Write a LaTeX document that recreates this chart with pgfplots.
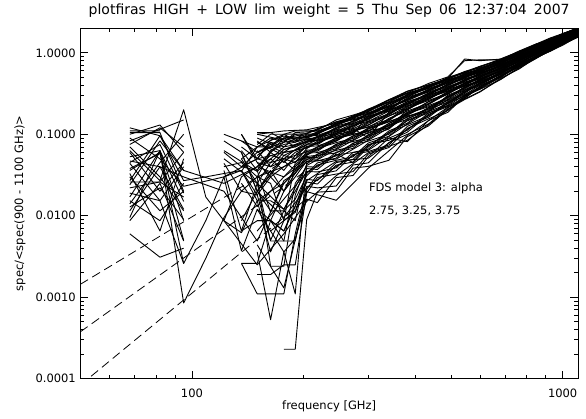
\documentclass[border=0pt]{standalone}
\usepackage{fontspec}
\setmainfont{DejaVu Sans}
\newfontfamily\titlefont[WordSpace=1.6]{DejaVu Sans}
\usepackage{pgfplots}
\usepackage{pgfplotstable}
\pgfplotsset{compat=1.18}

% spectra, one column per sky region
\pgfplotstableread{
f s1 s2 s3 s4 s5 s6 s7 s8 s9 s10 s11 s12 s13 s14 s15 s16 s17 s18 s19 s20 s21 s22 s23 s24 s25 s26 s27 s28 s29 s30 s31 s32 s33 s34 s35 s36 s37 s38 s39 s40
68 nan nan nan nan nan nan 0.006 nan 0.0095 nan 0.0128 nan nan 0.0153 0.017 nan 0.019 nan 0.022 0.026 nan 0.027 nan 0.038 0.044 nan 0.053 nan 0.063 0.083 nan 0.105 nan 0.12 nan 0.11 0.036 nan 0.047 nan
82 nan nan nan nan nan nan 0.0031 nan 0.063 nan 0.022 nan nan 0.0087 0.063 nan 0.0153 nan 0.026 0.026 nan 0.096 nan 0.058 0.0153 nan 0.063 nan 0.027 0.115 nan 0.105 nan 0.096 nan 0.11 0.06 nan 0.04 nan
95 nan nan nan nan nan nan 0.004 nan 0.00085 nan 0.009 nan nan 0.025 0.015 nan 0.0026 nan 0.017 0.06 nan 0.027 nan 0.005 0.04 nan 0.0087 nan 0.2 0.15 nan 0.02 nan 0.036 nan nan 0.0026 nan 0.012 nan
109 nan nan nan nan nan nan nan nan 0.003 nan nan nan nan nan nan nan 0.0087 nan nan nan nan 0.03 nan nan nan nan nan nan 0.017 nan nan nan nan nan nan nan nan nan nan nan
122 nan nan nan nan 0.03 nan 0.0087 nan 0.0095 nan nan 0.036 nan 0.044 nan nan 0.03 nan 0.083 nan nan 0.033 nan nan nan 0.04 nan nan 0.0087 nan nan nan nan 0.06 nan nan nan nan nan nan
136 nan nan 0.0026 nan 0.0037 0.0065 0.0062 nan 0.02 0.06 0.0026 0.0065 nan 0.02 0.04 nan 0.036 nan 0.06 0.1 0.025 0.036 nan 0.05 nan 0.045 0.0087 0.07 0.03 0.04 nan 0.063 nan 0.04 0.083 nan 0.1 0.05 nan 0.035
150 nan 0.0036 0.0011 0.0019 0.012 0.0087 0.0153 0.0153 0.018 0.02 0.0026 0.025 0.0087 0.03 0.036 nan 0.0153 0.03 0.02 0.045 0.013 0.018 0.04 0.025 0.063 0.03 0.02 0.05 0.04 0.06 0.105 0.036 0.075 0.05 0.06 0.083 0.05 0.07 0.04 0.07
163 nan 0.00053 0.0011 0.0019 0.0065 0.0087 0.0036 0.0153 0.005 0.0115 0.0087 0.0049 0.0087 0.0024 0.011 0.0065 0.02 0.025 0.036 0.04 0.02 0.03 0.05 0.045 0.04 0.06 0.033 0.045 0.055 0.07 0.105 0.063 0.1 0.08 0.075 0.06 0.085 0.09 0.06 0.07
177 0.00023 0.0036 0.0011 0.0025 0.0087 0.0049 0.0087 0.012 0.0115 0.0115 0.0065 0.0049 0.02 0.0024 0.027 0.0036 0.025 0.0087 0.02 0.047 0.03 0.04 0.036 0.05 0.06 0.045 0.055 0.065 0.05 0.06 0.085 0.075 0.1 0.07 0.09 0.08 0.095 0.08 0.09 0.1
190 0.00023 0.0052 0.006 0.0025 0.011 0.0049 0.0115 0.02 0.016 0.0087 0.013 0.025 0.03 0.018 0.033 0.0011 0.036 0.045 0.04 0.036 0.042 0.05 0.055 0.045 0.063 0.06 0.05 0.07 0.065 0.075 0.07 0.08 0.085 0.09 0.08 0.1 0.09 0.105 0.095 0.11
204 0.009 0.016 0.023 0.019 0.026 0.021 0.028 0.035 0.031 0.038 0.033 0.040 0.047 0.043 0.050 0.045 0.052 0.059 0.055 0.062 0.057 0.064 0.071 0.067 0.074 0.069 0.076 0.083 0.079 0.086 0.081 0.088 0.095 0.091 0.098 0.093 0.100 0.107 0.103 0.110
218 0.0195 0.0145 0.022 0.0295 0.0245 0.032 0.027 0.0345 0.042 0.037 0.0445 0.0395 0.047 0.0545 0.0495 0.057 0.052 0.0595 0.067 0.062 0.0695 0.0645 0.072 0.0795 0.0745 0.082 0.077 0.0845 0.092 0.087 0.0945 0.0895 0.097 0.1045 0.0995 0.107 0.102 0.1095 0.117 0.112
245 0.0201 0.0294 0.0232 0.0325 0.0418 0.0356 0.0449 0.0387 0.048 0.0573 0.0511 0.0604 0.0542 0.0635 0.0728 0.0666 0.0759 0.0697 0.079 0.0883 0.0821 0.0914 0.0852 0.0945 0.104 0.0976 0.107 0.101 0.11 0.119 0.113 0.122 0.116 0.126 0.135 0.129 0.138 0.132 0.141 0.150
272 0.0384 0.0312 0.042 0.0348 0.0456 0.0564 0.0492 0.06 0.0528 0.045 0.0744 0.0672 0.078 0.0708 0.0816 0.0924 0.0852 0.096 0.0888 0.0996 0.110 0.103 0.114 0.107 0.118 0.128 0.121 0.132 0.125 0.136 0.146 0.139 0.10 0.143 0.154 0.164 0.157 0.168 0.161 0.172
299 0.0404 0.053 0.0446 0.0572 0.075 0.0614 0.074 0.0656 0.0782 0.0698 0.0824 0.095 0.0866 0.0992 0.0908 0.103 0.116 0.108 0.12 0.112 0.124 0.137 0.129 0.141 0.09 0.145 0.158 0.15 0.162 0.154 0.166 0.179 0.171 0.183 0.175 0.187 0.2 0.192 0.204 0.196
340 0.048 0.09 0.0792 0.0688 0.0844 0.074 0.0896 0.105 0.0948 0.11 0.1 0.116 0.131 0.121 0.136 0.126 0.142 0.157 0.147 0.12 0.152 0.168 0.183 0.173 0.188 0.178 0.194 0.209 0.199 0.214 0.204 0.22 0.235 0.225 0.24 0.19 0.246 0.261 0.251 0.266
381 0.0936 0.0812 0.0998 0.118 0.106 0.125 0.112 0.131 0.149 0.137 0.156 0.18 0.162 0.18 0.168 0.187 0.174 0.193 0.211 0.199 0.218 0.205 0.224 0.242 0.23 0.249 0.236 0.2 0.273 0.261 0.28 0.267 0.286 0.304 0.292 0.311 0.298 0.317 0.335 0.323
435 0.127 0.148 0.134 0.155 0.176 0.162 0.183 0.169 0.19 0.211 0.197 0.218 0.204 0.225 0.19 0.232 0.253 0.239 0.26 0.281 0.267 0.288 0.274 0.295 0.316 0.302 0.323 0.309 0.33 0.351 0.337 0.358 0.344 0.365 0.386 0.372 0.393 0.379 0.4 0.421
490 0.203 0.186 0.211 0.195 0.219 0.244 0.227 0.252 0.236 0.26 0.285 0.268 0.293 0.277 0.301 0.326 0.309 0.334 0.318 0.342 0.367 0.35 0.375 0.359 0.383 0.408 0.391 0.416 0.4 0.424 0.449 0.432 0.457 0.441 0.465 0.49 0.473 0.498 0.482 0.506
544 0.267 0.293 0.276 0.301 0.284 0.31 0.335 0.318 0.344 0.327 0.352 0.378 0.361 0.386 0.369 0.395 0.42 0.403 0.429 0.412 0.437 0.463 0.446 0.471 0.454 0.48 0.505 0.488 0.514 0.497 0.522 0.548 0.531 0.556 0.539 0.565 0.59 0.573 0.84 0.80
598 0.33 0.356 0.381 0.364 0.39 0.373 0.398 0.424 0.407 0.432 0.415 0.441 0.466 0.449 0.475 0.458 0.483 0.509 0.492 0.517 0.5 0.526 0.551 0.534 0.56 0.543 0.568 0.594 0.577 0.602 0.585 0.611 0.636 0.619 0.645 0.628 0.653 0.679 0.80 0.82
680 0.487 0.469 0.496 0.523 0.505 0.532 0.514 0.541 0.568 0.55 0.577 0.559 0.586 0.613 0.595 0.622 0.604 0.631 0.658 0.64 0.667 0.649 0.676 0.703 0.685 0.712 0.694 0.721 0.748 0.73 0.757 0.739 0.766 0.793 0.775 0.802 0.784 0.811 0.838 0.82
762 0.63 0.66 0.72 0.67 0.70 0.68 0.71 0.69 0.72 0.75 0.73 0.76 0.74 0.77 0.80 0.78 0.81 0.79 0.82 0.85 0.83 0.86 0.84 0.87 0.90 0.88 0.91 0.89 0.92 0.95 0.93 0.96 0.94 0.97 1.00 0.98 1.01 0.99 1.02 1.05
843 0.864 0.842 0.875 0.853 0.886 0.919 0.897 1.05 0.908 0.941 0.974 0.952 0.985 0.963 0.996 1.029 1.007 1.04 1.018 1.051 1.084 1.062 1.095 1.073 1.106 1.139 1.117 1.15 1.128 1.0 1.194 1.172 1.205 1.183 1.216 1.249 1.227 1.26 1.238 1.271
925 1.043 1.078 1.055 1.089 1.066 1.101 1.135 1.112 1.147 1.124 1.158 1.193 1.17 1.204 1.181 1.216 1.25 1.227 1.262 1.239 1.273 1.2 1.285 1.319 1.296 1.331 1.365 1.342 1.377 1.354 1.388 1.423 1.4 1.434 1.411 1.446 1.48 1.457 1.492 1.469
1007 1.26 1.295 1.329 1.306 1.341 1.318 1.352 1.387 1.364 1.398 1.375 1.41 1.444 1.5 1.456 1.433 1.467 1.502 1.479 1.513 1.49 1.525 1.559 1.536 1.571 1.548 1.582 1.617 1.594 1.628 1.605 1.64 1.674 1.651 1.686 1.663 1.697 1.732 1.709 1.743
1100 1.595 1.572 1.606 1.641 1.618 1.652 1.629 1.664 1.698 1.675 1.71 1.687 1.721 1.756 1.733 1.767 1.744 1.779 1.813 1.79 1.825 1.802 1.836 1.871 1.848 1.882 1.859 1.894 1.928 1.905 1.94 1.917 1.951 1.986 1.963 1.997 1.974 2.009 2.043 2.02
}\spec

% more regions, sampled on a coarser grid
\pgfplotstableread{
f b1 b2 b3 b4 b5 b6 b7 b8 b9 b10 b11 b12 b13 b14 b15 b16 b17 b18 b19 b20
68 nan nan 0.0087 nan 0.03 0.0115 nan 0.07 0.024 nan 0.033 0.09 nan 0.014 0.1 nan 0.06 0.045 nan 0.075
82 nan nan 0.025 nan 0.0115 0.04 nan 0.03 0.083 nan 0.0065 0.05 nan 0.045 0.13 nan 0.02 0.075 nan 0.12
95 nan nan 0.0049 nan 0.02 0.03 nan 0.0115 0.036 nan 0.05 0.023 nan 0.1 0.06 nan 0.045 0.019 nan 0.07
122 nan 0.0087 nan nan nan 0.02 0.05 nan 0.025 nan nan 0.03 0.063 nan nan nan nan nan 0.1 nan
150 0.0044 0.0025 0.012 0.02 0.0065 0.0049 0.025 0.03 0.04 0.02 0.045 0.05 0.035 0.08 0.06 0.09 0.1 0.055 0.07 0.1
177 0.0013 0.006 0.0065 0.0095 0.016 0.025 0.012 0.04 0.03 0.05 0.02 0.06 0.07 0.055 0.08 0.065 0.085 0.09 0.1 0.11
204 0.0198 0.015 0.027 0.0222 0.0342 0.0462 0.0414 0.0534 0.0486 0.0606 0.0558 0.0678 0.0798 0.075 0.087 0.0822 0.0942 0.0894 0.1014 0.1134
245 0.0155 0.031 0.0465 0.0403 0.0558 0.0496 0.0651 0.0589 0.0744 0.0899 0.0837 0.0992 0.093 0.1085 0.1023 0.1178 0.1333 0.1271 0.1426 0.1364
299 0.0383 0.0593 0.0509 0.0719 0.0635 0.0845 0.1055 0.0971 0.1181 0.1097 0.1307 0.1223 0.1433 0.1643 0.1559 0.1769 0.1685 0.1895 0.1811 0.2021
381 0.0967 0.0843 0.1153 0.1463 0.1339 0.1649 0.1525 0.1835 0.1711 0.2021 0.2331 0.2207 0.2517 0.2393 0.2703 0.2579 0.2889 0.3199 0.3075 0.3385
490 0.2151 0.1987 0.2397 0.2233 0.2643 0.2479 0.2889 0.3299 0.3135 0.3545 0.3381 0.3791 0.3627 0.4037 0.4447 0.4283 0.4693 0.4529 0.4939 0.4775
598 0.3343 0.3768 0.3598 0.4023 0.4448 0.4278 0.4703 0.4533 0.4958 0.4788 0.5213 0.5638 0.5468 0.5893 0.5723 0.6148 0.5978 0.6403 0.6828 0.6658
762 0.645 0.695 0.675 0.725 0.705 0.755 0.735 0.785 0.835 0.815 0.865 0.845 0.895 0.875 0.925 0.975 0.955 1.005 0.985 1.035
925 1.072 1.049 1.106 1.083 1.141 1.198 1.175 1.233 1.21 1.267 1.244 1.302 1.359 1.336 1.394 1.371 1.428 1.405 1.463 1.52
1100 1.554 1.612 1.669 1.646 1.704 1.681 1.738 1.715 1.773 1.83 1.807 1.865 1.842 1.899 1.876 1.934 1.991 1.968 2.026 2.003
}\specb

\begin{document}
\begin{tikzpicture}
\begin{axis}[
    name=ax,
    xmode=log, ymode=log,
    scale only axis, width=497.7pt, height=350.4pt,
    xmin=50, xmax=1100, ymin=1e-4, ymax=2,
    xtick={100,1000}, xticklabels={100,1000},
    minor xtick={60,70,80,90,200,300,400,500,600,700,800,900},
    ytick={1e-4,1e-3,1e-2,1e-1,1},
    yticklabels={0.0001,0.0010,0.0100,0.1000,1.0000},
    minor ytick={0.0002,0.0003,0.0004,0.0005,0.0006,0.0007,0.0008,0.0009,
        0.002,0.003,0.004,0.005,0.006,0.007,0.008,0.009,
        0.02,0.03,0.04,0.05,0.06,0.07,0.08,0.09,
        0.2,0.3,0.4,0.5,0.6,0.7,0.8,0.9},
    major tick length=8pt, minor tick length=4pt,
    tick style={black, line width=0.8pt},
    axis line style={line width=0.9pt},
    every tick label/.append style={font=\fontsize{11.5}{13}\selectfont},
    yticklabel style={inner sep=0pt, xshift=-4.3pt},
    xticklabel style={inner sep=0pt, yshift=-9.6pt},
    title={\titlefont\fontsize{14}{16}\selectfont plotfiras HIGH + LOW lim weight = 5 Thu Sep 06 12:37:04 2007},
    title style={at={(axis description cs:0.5,1.0217)}, anchor=base, inner sep=0pt},
    xlabel={frequency [GHz]},
    xlabel style={at={(axis description cs:0.5,-0.0893)}, anchor=base, inner sep=0pt, font=\fontsize{11.5}{13}\selectfont},
    ylabel={spec/<spec(900 - 1100 GHz)>},
    ylabel style={at={(axis description cs:-0.1151,0.5)}, anchor=base, inner sep=0pt, font=\fontsize{11.5}{13}\selectfont},
    unbounded coords=jump,
]
\pgfplotsinvokeforeach{1,...,40}{
    \addplot[black, line width=0.9pt, line join=round] table[x=f, y=s#1] {\spec};
}
\pgfplotsinvokeforeach{1,...,20}{
    \addplot[black, line width=0.9pt, line join=round] table[x=f, y=b#1] {\specb};
}
% FDS model 3 power laws, alpha = 2.75, 3.25, 3.75
\addplot[black, line width=0.8pt, dash pattern=on 9pt off 5pt] coordinates {(50,0.00144) (200,0.0652)};
\addplot[black, line width=0.8pt, dash pattern=on 9pt off 5pt] coordinates {(50,0.000376) (200,0.0340)};
\addplot[black, line width=0.8pt, dash pattern=on 9pt off 5pt] coordinates {(50,0.0000833) (200,0.01508)};
\node[anchor=base west, inner sep=0pt, font=\fontsize{11.5}{13}\selectfont] at (axis cs:300,0.0198) {FDS model 3: alpha};
\node[anchor=base west, inner sep=0pt, font=\fontsize{11.5}{13}\selectfont] at (axis cs:300,0.01026) {2.75, 3.25, 3.75};
\end{axis}
\pgfresetboundingbox
\path[use as bounding box] ([shift={(-80.3pt,-40.3pt)}]ax.south west) rectangle ++(586pt,419pt);
\end{tikzpicture}
\end{document}
